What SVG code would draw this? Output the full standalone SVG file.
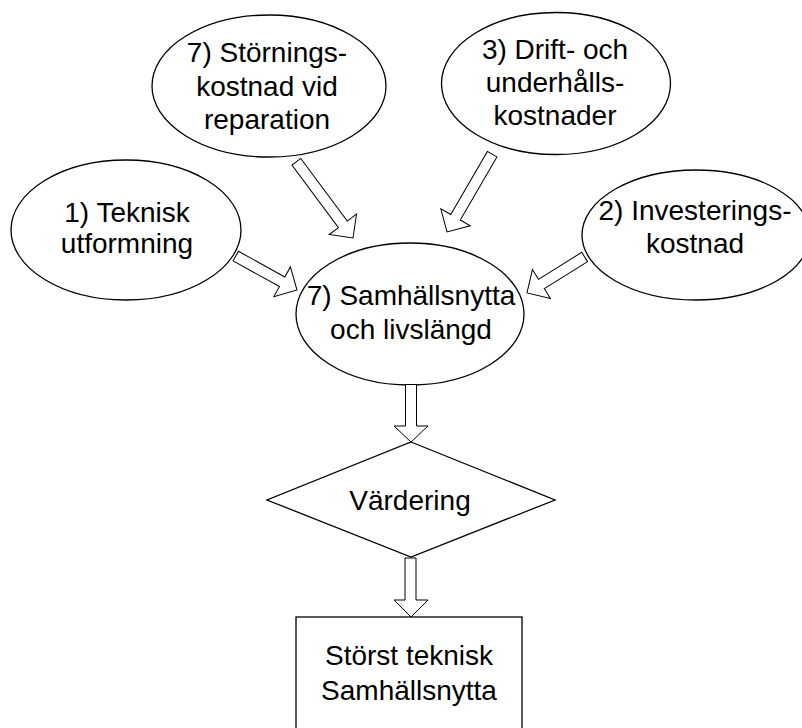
<svg xmlns="http://www.w3.org/2000/svg" width="802" height="728" viewBox="0 0 802 728">
<style>
.s{fill:#fff;stroke:#000;stroke-width:1.3}
.a{fill:#fff;stroke:#000;stroke-width:1}
text{font-family:"Liberation Sans",Arial,sans-serif;font-size:28px;fill:#000;text-anchor:middle}
</style>
<rect width="802" height="728" fill="#fff"/>
<g id="n-storning">
<ellipse class="s" cx="269" cy="86" rx="117" ry="71"/>
<text x="267" y="62">7) Störnings-</text>
<text x="267" y="96">kostnad vid</text>
<text x="267" y="129">reparation</text>
</g>
<g id="n-drift">
<ellipse class="s" cx="556" cy="83.5" rx="114.5" ry="71"/>
<text x="555" y="59">3) Drift- och</text>
<text x="555" y="92">underhålls-</text>
<text x="555" y="125">kostnader</text>
</g>
<g id="n-teknisk">
<ellipse class="s" cx="126" cy="230" rx="115" ry="70"/>
<text x="127" y="222">1) Teknisk</text>
<text x="127" y="253">utformning</text>
</g>
<g id="n-invest">
<ellipse class="s" cx="696" cy="235" rx="114" ry="65"/>
<text x="695" y="220">2) Investerings-</text>
<text x="695" y="253">kostnad</text>
</g>
<g id="n-samhall">
<ellipse class="s" cx="410" cy="314" rx="114" ry="71"/>
<text x="411" y="305">7) Samhällsnytta</text>
<text x="411" y="339">och livslängd</text>
</g>
<g id="n-vardering">
<polygon class="s" points="411,442 555,500 411,557 267,500"/>
<text x="410" y="510">Värdering</text>
</g>
<g id="n-storst">
<rect class="s" x="296" y="617" width="226" height="130"/>
<text x="409" y="665">Störst teknisk</text>
<text x="409" y="700">Samhällsnytta</text>
</g>
<g id="connectors">
<polygon class="a" transform="translate(353,238) rotate(53.4)" points="-95,-5.5 -17,-5.5 -17,-17 0,0 -17,17 -17,5.5 -95,5.5"/>
<polygon class="a" transform="translate(447,232) rotate(120.1)" points="-90,-5.5 -17,-5.5 -17,-17 0,0 -17,17 -17,5.5 -90,5.5"/>
<polygon class="a" transform="translate(297,290) rotate(29)" points="-70,-5.5 -17,-5.5 -17,-17 0,0 -17,17 -17,5.5 -70,5.5"/>
<polygon class="a" transform="translate(527,293) rotate(148)" points="-68,-5.5 -17,-5.5 -17,-17 0,0 -17,17 -17,5.5 -68,5.5"/>
<polygon class="a" points="405.5,384.5 416.5,384.5 416.5,426 428,426 411,442 394,426 405.5,426"/>
<polygon class="a" points="405,558 416,558 416,600 428,600 411,617 394,600 405,600"/>
</g>
</svg>
